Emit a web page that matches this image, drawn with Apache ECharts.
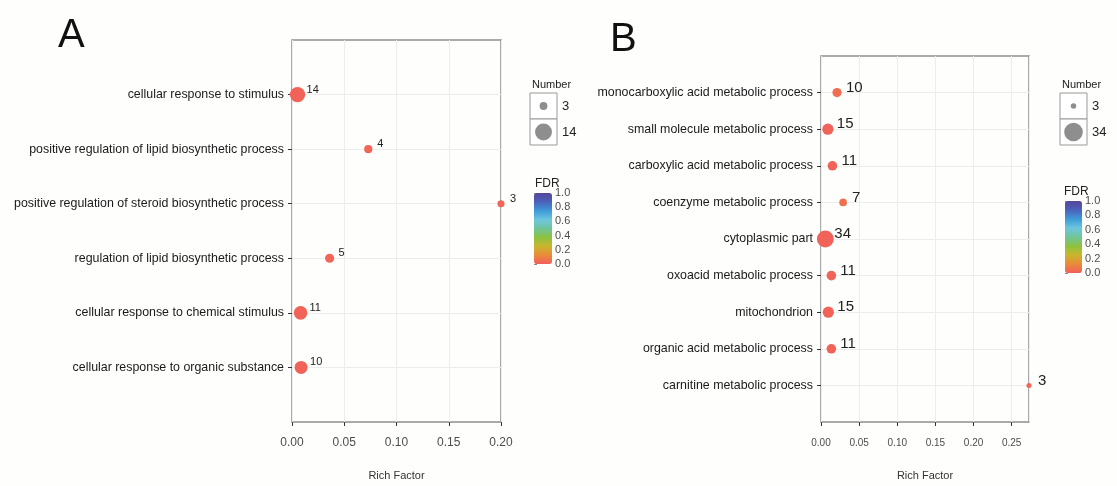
<!DOCTYPE html>
<html>
<head>
<meta charset="utf-8">
<script src="https://cdn.jsdelivr.net/npm/echarts@6/dist/echarts.min.js"></script>
<style>
  html, body { margin: 0; padding: 0; background: #fefefd; }
  #main { width: 1117px; height: 486px; }
</style>
</head>
<body>
<div id="main"></div>
<script>
// panel A
const catsA = [
  "cellular response to stimulus",
  "positive regulation of lipid biosynthetic process",
  "positive regulation of steroid biosynthetic process",
  "regulation of lipid biosynthetic process",
  "cellular response to chemical stimulus",
  "cellular response to organic substance"
];
const richA = [0.0053, 0.073, 0.2, 0.036, 0.0082, 0.0087];
const countA = [14, 4, 3, 5, 11, 10];
const fdrA = [0.01, 0.02, 0.02, 0.02, 0.01, 0.01];

// panel B
const catsB = [
  "monocarboxylic acid metabolic process",
  "small molecule metabolic process",
  "carboxylic acid metabolic process",
  "coenzyme metabolic process",
  "cytoplasmic part",
  "oxoacid metabolic process",
  "mitochondrion",
  "organic acid metabolic process",
  "carnitine metabolic process"
];
const richB = [0.021, 0.009, 0.015, 0.029, 0.0057, 0.0136, 0.0096, 0.0136, 0.2727];
const countB = [10, 15, 11, 7, 34, 11, 15, 11, 3];
const fdrB = [0.04, 0.01, 0.01, 0.05, 0.01, 0.01, 0.01, 0.01, 0.02];

const fdrTicks = [0, 0.2, 0.4, 0.6, 0.8, 1.0];

const FONT = "Liberation Sans";
const fdrColors = ['#F25F5C', '#EA8A3A', '#C9B62C', '#8DC23F', '#6FC59A',
                   '#6CC6DE', '#3E9AD8', '#4A62BC', '#584496'];

const sizeA = n => 4.1 * Math.sqrt(n);
const sizeB = n => 2.9 * Math.sqrt(n);

// blank category at each end gives the ggplot-like padding
function padCats(cats) { return [" "].concat(cats, ["  "]); }
function inner(len) { return (i) => i > 0 && i < len - 1; }

function catAxis(grid, cats) {
  const padded = padCats(cats);
  return {
    type: "category", gridIndex: grid, data: padded, inverse: true, boundaryGap: false,
    axisLine: { show: false },
    axisTick: { show: true, interval: inner(padded.length), length: 4, lineStyle: { color: "#333" } },
    axisLabel: { interval: inner(padded.length), fontFamily: FONT, fontSize: 12.4, color: "#1a1a1a", margin: 8 },
    splitLine: { show: true, interval: inner(padded.length), lineStyle: { color: "#ededed" } }
  };
}

function valAxis(grid, max, fontSize, margin) {
  return {
    type: "value", gridIndex: grid, min: 0, max: max, interval: 0.05,
    name: "Rich Factor", nameLocation: "middle", nameGap: 48,
    nameTextStyle: { fontFamily: FONT, fontSize: 11, color: "#333" },
    axisLine: { show: false },
    axisTick: { show: true, length: 4, lineStyle: { color: "#333" } },
    axisLabel: { fontFamily: FONT, fontSize: fontSize, color: "#4d4d4d", margin: margin,
                 showMaxLabel: max === 0.2, formatter: v => v.toFixed(2) },
    splitLine: { show: true, lineStyle: { color: "#ededed" } }
  };
}

function barAxis(grid) {
  return {
    type: "value", gridIndex: grid, position: "right", min: 0, max: 1, interval: 0.2,
    axisLine: { show: false },
    axisTick: { show: true, length: 3, lineStyle: { color: "#888" } },
    axisLabel: { fontFamily: FONT, fontSize: 11, color: "#4d4d4d", margin: 3,
                 showMinLabel: true, showMaxLabel: true, formatter: v => v.toFixed(1) },
    splitLine: { show: false }
  };
}

function scatter(idx, cats, rich, count, fdr, size, fontSize, offset) {
  return {
    type: "scatter", xAxisIndex: idx, yAxisIndex: idx,
    data: cats.map((c, i) => [rich[i], c, count[i], fdr[i]]),
    symbolSize: v => size(v[2]),
    itemStyle: { opacity: 1 },
    label: { show: true, position: "inside", align: "left", offset: offset,
             formatter: p => p.value[2], fontFamily: FONT, fontSize: fontSize, color: "#222" },
    emphasis: { disabled: true }
  };
}

function sizeLegend(x, y, counts, size) {
  const lo = Math.min(...counts), hi = Math.max(...counts);
  const g = [
    { type: "text", left: x + 2, top: y - 14, style: { text: "Number", font: "11px " + FONT, fill: "#222" } }
  ];
  [lo, hi].forEach((n, k) => {
    const top = y + k * 26;
    g.push({ type: "rect", shape: { x: x, y: top, width: 27, height: 26 },
             style: { fill: "#fff", stroke: "#999", lineWidth: 1 } });
    g.push({ type: "circle", shape: { cx: x + 13.5, cy: top + 13, r: size(n) / 2 * 1.1 },
             style: { fill: "#8e8e8e" } });
    g.push({ type: "text", x: x + 32, y: top + 13,
             style: { text: String(n), font: "13px " + FONT, fill: "#222", textVerticalAlign: "middle" } });
  });
  return g;
}

const chart = echarts.init(document.getElementById("main"));
const option = {
  backgroundColor: "#fefefd",
  animation: false,
  grid: [
    { left: 292, top: 40, width: 209, height: 388, show: true, borderColor: "#8f8f8f", borderWidth: 1.5, backgroundColor: "transparent" },
    { left: 821, top: 56, width: 208, height: 371, show: true, borderColor: "#8f8f8f", borderWidth: 1.5, backgroundColor: "transparent" },
    { left: 534, top: 193, width: 18, height: 71 },
    { left: 1065, top: 201, width: 17, height: 72 }
  ],
  xAxis: [
    valAxis(0, 0.2, 12, 15),
    valAxis(1, 0.2727, 10, 16),
    { type: "value", gridIndex: 2, show: false },
    { type: "value", gridIndex: 3, show: false }
  ],
  yAxis: [
    catAxis(0, catsA),
    catAxis(1, catsB),
    barAxis(2),
    barAxis(3)
  ],
  visualMap: [
    { type: "continuous", min: 0, max: 1, seriesIndex: 0, dimension: 3, calculable: false,
      left: 534, top: 193, itemWidth: 18, itemHeight: 71, padding: 0, inRange: { color: fdrColors } },
    { type: "continuous", min: 0, max: 1, seriesIndex: 1, dimension: 3, calculable: false,
      left: 1065, top: 201, itemWidth: 17, itemHeight: 72, padding: 0, inRange: { color: fdrColors } }
  ],
  series: [
    scatter(0, catsA, richA, countA, fdrA, sizeA, 11, [9, -5]),
    scatter(1, catsB, richB, countB, fdrB, sizeB, 15, [9, -5])
  ],
  graphic: [
    { type: "text", left: 58, top: 16, style: { text: "A", font: "40px " + FONT, fill: "#111" } },
    { type: "text", left: 610, top: 20, style: { text: "B", font: "40px " + FONT, fill: "#111" } },
    { type: "text", left: 535, top: 178, style: { text: "FDR", font: "12px " + FONT, fill: "#222" } },
    { type: "text", left: 1064, top: 186, style: { text: "FDR", font: "12px " + FONT, fill: "#222" } }
  ].concat(sizeLegend(530, 93, countA, sizeA), sizeLegend(1060, 93, countB, sizeB))
};
chart.setOption(option);
window.onresize = chart.resize;
</script>
</body>
</html>
